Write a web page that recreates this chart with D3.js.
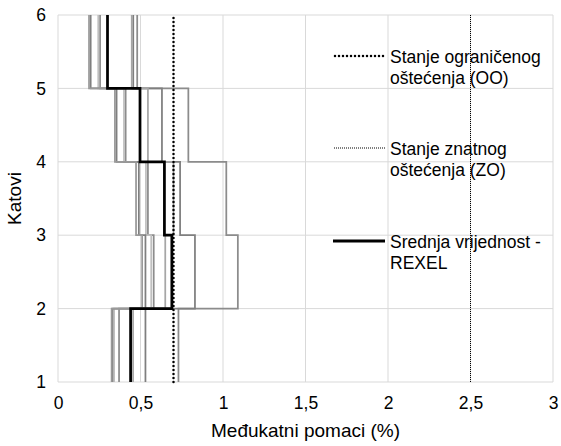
<!DOCTYPE html>
<html>
<head>
<meta charset="utf-8">
<script src="https://cdn.jsdelivr.net/npm/d3@7"></script>
<style>
  body { margin: 0; background: #fff; }
  text { font-family: "Liberation Sans", Arial, sans-serif; fill: #000; }
</style>
</head>
<body>
<div id="chart"></div>
<script>
// Storey drifts (%) for storeys 1-2 ... 5-6, one array per record
const storeys = [1, 2, 3, 4, 5];
const rec1 = [0.73, 1.09, 1.02, 0.79, 0.48];
const rec2 = [0.53, 0.83, 0.74, 0.63, 0.456];
const rec3 = [0.455, 0.65, 0.70, 0.545, 0.447];
const rec4 = [0.37, 0.58, 0.545, 0.41, 0.255];
const rec5 = [0.34, 0.565, 0.533, 0.40, 0.244];
const rec6 = [0.33, 0.53, 0.49, 0.355, 0.198];
const rec7 = [0.325, 0.51, 0.473, 0.345, 0.188];
const meanRexel = [0.44, 0.69, 0.645, 0.497, 0.30];

const limitOO = 0.7;
const limitZO = 2.5;

const xTicks = [0, 0.5, 1, 1.5, 2, 2.5, 3];
const yTicks = [1, 2, 3, 4, 5, 6];
const legendLabels = [
  ["Stanje ograničenog", "oštećenja (OO)"],
  ["Stanje znatnog", "oštećenja (ZO)"],
  ["Srednja vrijednost -", "REXEL"]
];

const width = 561, height = 446;
const margin = { top: 15, right: 8, bottom: 64, left: 58 };
const fontSize = 17.5;

const svg = d3.select("#chart").append("svg")
  .attr("width", width)
  .attr("height", height);

const x = d3.scaleLinear().domain([0, 3]).range([margin.left, width - margin.right]);
const y = d3.scaleLinear().domain([1, 6]).range([height - margin.bottom, margin.top]);

const fmt = v => String(v).replace(".", ",");

// gridlines
svg.append("g").selectAll("line.v").data(xTicks).join("line")
  .attr("x1", d => x(d)).attr("x2", d => x(d))
  .attr("y1", y(1)).attr("y2", y(6))
  .attr("stroke", "#d9d9d9").attr("stroke-width", 1);
svg.append("g").selectAll("line.h").data(yTicks).join("line")
  .attr("x1", x(0)).attr("x2", x(3))
  .attr("y1", d => y(d)).attr("y2", d => y(d))
  .attr("stroke", "#d9d9d9").attr("stroke-width", 1);

// axes (labels only)
const xAxis = svg.append("g")
  .attr("transform", `translate(0,${y(1)})`)
  .call(d3.axisBottom(x).tickValues(xTicks).tickFormat(fmt).tickSize(0).tickPadding(15));
const yAxis = svg.append("g")
  .attr("transform", `translate(${x(0)},0)`)
  .call(d3.axisLeft(y).tickValues(yTicks).tickFormat(d3.format("d")).tickSize(0).tickPadding(12));
[xAxis, yAxis].forEach(a => {
  a.select(".domain").remove();
  a.selectAll("text").attr("font-size", fontSize).attr("font-family", "Liberation Sans, Arial, sans-serif").attr("fill", "#000");
});

// step path: each storey value held between floor i and i+1
function stepPoints(vals) {
  const pts = [];
  vals.forEach((v, i) => {
    pts.push([v, storeys[i]]);
    pts.push([v, storeys[i] + 1]);
  });
  return pts;
}
const line = d3.line().x(d => x(d[0])).y(d => y(d[1]));

const records = [rec1, rec2, rec3, rec4, rec5, rec6, rec7];
const grays = ["#8c8c8c", "#7f7f7f", "#a6a6a6", "#8c8c8c", "#bfbfbf", "#7f7f7f", "#999999"];

svg.append("g").selectAll("path").data(records).join("path")
  .attr("d", d => line(stepPoints(d)))
  .attr("fill", "none")
  .attr("stroke", (d, i) => grays[i])
  .attr("stroke-width", 1.75);

svg.append("path")
  .attr("d", line(stepPoints(meanRexel)))
  .attr("fill", "none")
  .attr("stroke", "#000")
  .attr("stroke-width", 2.75);

// limit lines
svg.append("line")
  .attr("x1", x(limitOO)).attr("x2", x(limitOO))
  .attr("y1", y(1)).attr("y2", y(6))
  .attr("stroke", "#000").attr("stroke-width", 2.5)
  .attr("stroke-dasharray", "0 4").attr("stroke-linecap", "round");
svg.append("line")
  .attr("x1", x(limitZO)).attr("x2", x(limitZO))
  .attr("y1", y(1)).attr("y2", y(6))
  .attr("stroke", "#000").attr("stroke-width", 1)
  .attr("stroke-dasharray", "1 1");

// legend
const legendY = [56, 148, 241];
const leg = svg.append("g");
leg.append("line").attr("x1", 335).attr("x2", 384).attr("y1", legendY[0]).attr("y2", legendY[0])
  .attr("stroke", "#000").attr("stroke-width", 2.5).attr("stroke-dasharray", "0 4").attr("stroke-linecap", "round");
leg.append("line").attr("x1", 334).attr("x2", 385).attr("y1", legendY[1]).attr("y2", legendY[1])
  .attr("stroke", "#000").attr("stroke-width", 1).attr("stroke-dasharray", "1 1");
leg.append("line").attr("x1", 333).attr("x2", 385).attr("y1", legendY[2]).attr("y2", legendY[2])
  .attr("stroke", "#000").attr("stroke-width", 3);

legendLabels.forEach((lines, i) => {
  const t = leg.append("text").attr("x", 390).attr("y", legendY[i] + 7).attr("font-size", fontSize);
  lines.forEach((s, j) => {
    t.append("tspan").attr("x", 390).attr("dy", j === 0 ? 0 : 20.5).text(s);
  });
});

// axis titles
svg.append("text")
  .attr("x", (x(0) + x(3)) / 2).attr("y", 437)
  .attr("text-anchor", "middle").attr("font-size", 19)
  .text("Međukatni pomaci (%)");
svg.append("text")
  .attr("transform", `translate(21,${(y(1) + y(6)) / 2}) rotate(-90)`)
  .attr("text-anchor", "middle").attr("font-size", 19)
  .text("Katovi");
</script>
</body>
</html>
